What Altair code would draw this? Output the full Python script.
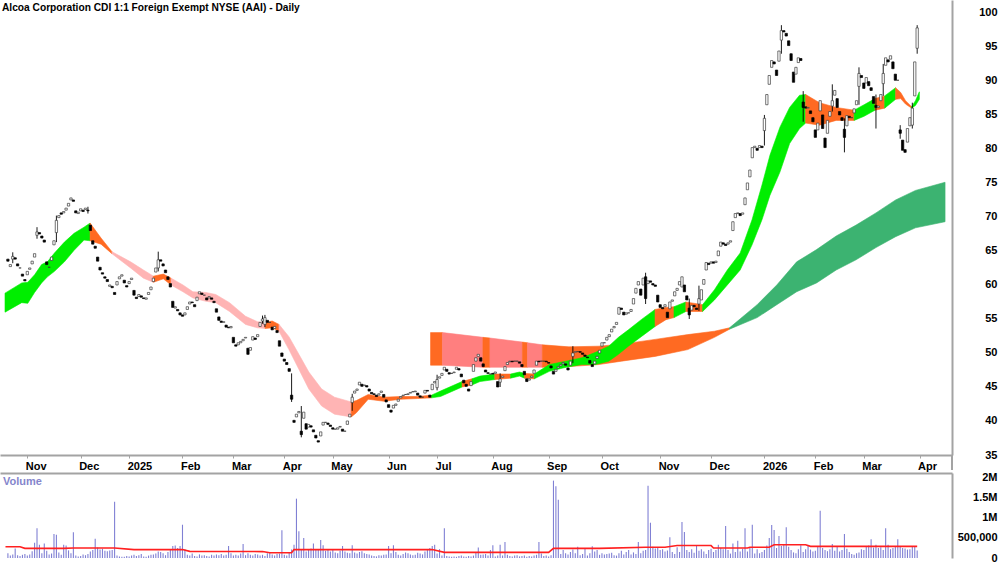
import altair as alt
import pandas as pd

FONT = "Liberation Sans, Arial, sans-serif"
TITLE = "Alcoa Corporation CDI 1:1 Foreign Exempt NYSE (AAI) - Daily"

MONTH_TICKS = [8, 30, 50, 72, 93, 114, 134, 157, 177, 200, 223, 245, 269, 290, 312, 333, 353, 376]
MONTH_LABELS = ["Nov", "Dec", "2025", "Feb", "Mar", "Apr", "May", "Jun", "Jul", "Aug",
                "Sep", "Oct", "Nov", "Dec", "2026", "Feb", "Mar", "Apr"]
PRICE_TICKS = [35, 40, 45, 50, 55, 60, 65, 70, 75, 80, 85, 90, 95, 100]
VOL_TICKS = [0, 500000, 1000000, 1500000, 2000000]
VOL_LABELS = ["0", "500,000", "1M", "1.5M", "2M"]

# daily closes (trading-day index 0..375)
CLOSE = [
    63.5, 63.0, 64.2, 63.8, 62.8, 62.5, 61.3, 60.6,
    62.0, 62.5, 63.5, 64.6, 67.8, 67.5, 66.9, 66.3,
    63.0, 62.6, 64.1, 66.5, 69.5, 70.2, 70.4, 70.8,
    71.3, 72.0, 72.8, 72.3, 70.6, 70.7, 71.2, 70.8,
    71.3, 70.9, 68.0, 66.0, 65.4, 63.5, 62.2, 61.6,
    61.0, 60.5, 60.0, 59.6, 58.6, 60.5, 61.2, 61.5,
    60.3, 59.7, 60.5, 61.0, 58.5, 58.0, 58.6, 58.2,
    58.0, 58.1, 58.9, 59.7, 61.0, 62.5, 63.7, 63.5,
    62.8, 61.8, 60.8, 59.7, 56.7, 56.8, 56.2, 55.6,
    55.4, 55.9, 56.8, 57.5, 57.4, 56.8, 58.2, 59.0,
    58.6, 58.5, 57.8, 58.3, 57.9, 57.4, 56.0, 54.8,
    54.5, 54.6, 53.8, 53.7, 53.9, 51.5, 51.0, 51.5,
    51.7, 52.0, 52.3, 49.8, 50.8, 52.4, 52.0, 52.7,
    54.5, 55.0, 55.2, 54.5, 54.5, 53.4, 53.9, 53.0,
    51.0, 49.5, 48.8, 48.3, 47.3, 43.2, 39.8, 41.0,
    41.4, 38.0, 41.3, 38.8, 39.5, 39.1, 38.4, 37.5,
    36.9, 38.4, 39.8, 39.8, 39.5, 39.2, 38.8, 38.8,
    39.0, 39.2, 38.5, 38.5, 40.0, 41.0, 43.5, 44.4,
    44.7, 45.7, 45.1, 45.3, 45.0, 44.4, 44.0, 43.9,
    43.6, 44.0, 44.4, 43.5, 42.8, 42.0, 41.3, 42.3,
    42.5, 43.2, 43.6, 43.8, 43.9, 44.0, 44.2, 44.3,
    44.4, 43.8, 43.5, 43.5, 44.5, 44.4, 43.5, 45.4,
    45.8, 46.1, 46.5, 47.0, 47.9, 47.3, 46.9, 47.0,
    47.2, 47.9, 47.5, 46.5, 45.6, 45.1, 44.4, 45.8,
    48.3, 49.3, 49.8, 48.8, 48.0, 47.2, 47.0, 46.9,
    46.9, 47.2, 45.0, 46.2, 46.6, 48.0, 48.6, 48.8,
    48.7, 48.8, 48.8, 48.5, 48.0, 46.8, 45.8, 46.2,
    46.6, 47.5, 48.8, 48.7, 48.8, 48.8, 48.7, 48.5,
    47.8, 46.9, 47.6, 48.0, 48.3, 48.6, 48.2, 47.5,
    48.8, 50.0, 50.2, 50.2, 50.1, 49.8, 49.5, 49.3,
    48.5, 48.0, 48.8, 49.5, 50.4, 51.5, 51.5, 52.3,
    52.7, 53.5, 53.9, 54.5, 56.7, 56.4, 55.6, 55.9,
    55.9, 56.4, 58.0, 59.5, 60.5, 58.5, 61.0, 58.0,
    60.6, 60.4, 60.0, 59.8, 57.5, 56.7, 56.5, 57.1,
    55.2, 57.5, 57.8, 59.0, 59.5, 60.5, 61.2, 59.0,
    57.8, 55.6, 57.0, 56.8, 56.4, 58.0, 59.3, 60.8,
    63.3, 63.0, 63.4, 63.2, 63.5, 65.0, 66.3, 66.0,
    65.8, 66.2, 66.5, 69.3, 70.5, 70.6, 70.2, 70.6,
    72.8, 75.0, 76.9, 80.2, 80.4, 79.8, 80.5, 80.2,
    84.5, 88.0, 90.8, 93.0, 92.5, 90.8, 94.4, 97.4,
    97.2, 96.6, 95.2, 93.0, 89.8, 92.0, 93.4, 93.0,
    86.1, 86.0, 86.1, 85.2, 84.0, 81.7, 83.8, 87.1,
    83.0, 80.2, 84.2, 85.5, 87.1, 88.6, 86.1, 85.0,
    84.2, 81.7, 84.9, 84.6, 84.6, 85.9, 87.1, 91.1,
    90.5, 88.9, 90.5, 89.3, 88.6, 86.7, 86.1, 86.3,
    88.0, 91.1, 93.4, 92.8, 93.7, 91.8, 90.1, 90.1,
    82.3, 79.8, 79.5, 83.0, 84.6, 86.0, 92.8, 97.8,
]

# open minus close for each day
BODY = [
    0.3, -0.3, -0.4, 0.2, 0.3, 0, 0.3, 0.2,
    -0.5, -0.2, -0.4, -0.5, -0.5, 0.2, 0.3, 0.3,
    0.4, 0, -0.5, -0.6, -1.8, -0.3, 0.2, -0.2,
    -0.3, -0.4, -0.3, 0.2, 0.3, -0.2, -0.3, 0.2,
    -0.2, 0.1, 0.8, 0.5, 0.3, 0.6, 0.4, 0.2,
    0.2, 0.3, -0.2, 0.2, 0.3, -0.5, -0.3, -0.2,
    0.4, 0.2, -0.3, -0.2, 0.7, 0.2, -0.3, 0.2,
    0.1, -0.2, -0.3, -0.4, -0.5, -0.6, -1.2, 0.2,
    0.3, 0.4, 0.4, 0.5, 0.9, -0.2, 0.2, 0.3,
    0.2, -0.3, -0.4, -0.3, 0.1, 0.3, -0.5, -0.3,
    0.2, 0, 0.3, -0.2, 0.2, 0.2, 0.5, 0.5,
    0.2, -0.1, 0.3, 0.1, -0.2, 0.8, 0.2, -0.3,
    -0.2, -0.2, -0.1, 0.9, -0.4, -0.5, 0.2, -0.3,
    -0.6, -0.3, -1.0, 0.3, 0, 0.4, -0.3, 0.3,
    0.8, 0.5, 0.3, 0.3, 0.4, 0.6, 0.3, -0.4,
    -0.2, 0.5, -0.9, 0.8, -0.4, 0.2, 0.3, 0.4,
    0.2, -0.6, -0.4, 0, 0.2, 0.2, 0.2, 0,
    -0.2, -0.1, 0.3, 0, -0.5, -0.4, -0.8, -0.3,
    -0.2, -0.4, 0.3, -0.1, 0.2, 0.3, 0.2, 0.1,
    0.2, -0.2, -0.2, 0.4, 0.3, 0.4, 0.3, -0.4,
    -0.2, -0.3, -0.2, -0.1, 0, -0.1, -0.1, 0,
    -0.1, 0.3, 0.2, 0, -0.4, 0.1, 0.3, -0.8,
    -0.2, -1.2, -0.2, -0.3, -0.4, 0.3, 0.2, 0,
    -0.1, -0.3, 0.2, 0.4, 0.4, 0.3, 0.3, -0.6,
    -1.0, -0.5, -0.3, 0.5, 0.4, 0.3, 0.1, 0,
    0.1, -0.2, 0.8, -0.5, -0.2, -0.6, -0.3, -0.1,
    0.1, 0, 0, 0.2, 0.3, 0.5, 0.4, -0.2,
    -0.2, -0.5, -0.6, 0.1, 0, 0, 0.1, 0.1,
    0.3, 0.4, -0.3, -0.2, -0.2, -0.2, 0.2, 0.3,
    -0.6, -0.5, -0.1, 0, 0.1, 0.2, 0.2, 0.1,
    0.4, 0.3, -0.4, -0.3, -0.4, -0.5, 0, -0.4,
    -0.3, -0.4, -0.2, -0.3, -1.0, 0.2, 0.4, -0.2,
    0, -0.3, -0.8, -0.7, -0.5, 0.9, -1.0, 3.2,
    -0.4, 0.2, 0.2, 0.2, 1.0, 0.4, 0.2, -0.3,
    0.8, -1.0, -0.2, -0.6, -0.3, -0.5, -1.5, 1.0,
    0.6, 1.0, -0.7, 0.2, 0.2, -0.8, -1.5, -0.7,
    -1.1, 0.2, -0.2, 0.2, -0.2, -0.7, -0.6, 0.2,
    0.2, -0.2, -0.2, -1.3, -0.6, -0.1, 0.3, -0.2,
    -1.0, -1.0, -1.0, -1.5, -0.2, 0.3, -0.3, 0.2,
    -1.8, -1.5, -1.3, -1.0, 0.3, 0.8, -1.5, -1.4,
    0.2, 0.4, 0.7, 1.0, 1.5, -1.0, -0.7, 0.3,
    0.8, 0.2, -0.1, 0.4, 0.6, 1.1, -1.0, -1.5,
    2.0, 1.4, -1.9, -0.7, -0.8, -0.7, 1.3, 0.5,
    0.4, 1.2, -1.5, 0.2, 0, -0.6, -0.6, -1.9,
    0.3, 0.8, -0.8, 0.6, 0.4, 1.0, 0.3, -0.2,
    -0.9, -1.5, -1.1, 0.3, -0.5, 1.0, 0.9, 0,
    0.5, 1.5, 0.4, -2.0, -1.2, -2.5, -5.0, -3.0,
]

WICK_IDX = [2, 12, 20, 33, 62, 105, 106, 117, 121, 142, 177, 203, 233, 263, 281, 285,
            312, 319, 328, 340, 345, 351, 358, 361, 368, 373, 375]
WICK_HI = [64.8, 68.5, 70.2, 71.5, 64.9, 55.5, 55.6, 47.0, 42.2, 44.0, 46.8, 47.0, 51.0, 61.8, 58.0, 59.9,
           85.0, 98.2, 88.5, 89.5, 84.5, 92.0, 88.0, 92.5, 83.5, 86.8, 98.2]
WICK_LO = [63.2, 66.8, 66.3, 70.5, 62.0, 54.3, 53.8, 42.8, 37.6, 41.5, 44.5, 45.0, 48.5, 57.2, 55.0, 56.2,
           80.5, 94.0, 84.0, 85.5, 79.5, 86.5, 83.0, 87.8, 81.5, 83.0, 94.0]

# daily volume, thousands
VOLUME_K = [
    120, 60, 90, 240, 70, 50, 80, 100,
    60, 90, 170, 380, 740, 330, 120, 360,
    180, 90, 110, 600, 580, 140, 80, 330,
    310, 190, 120, 640, 60, 40, 50, 90,
    70, 100, 160, 200, 480, 260, 210, 230,
    180, 170, 190, 200, 1400, 60, 40, 30,
    30, 50, 40, 60, 80, 50, 70, 100,
    40, 30, 60, 80, 90, 110, 160, 150,
    120, 70, 150, 200, 300, 310, 250, 300,
    830, 220, 80, 60, 110, 50, 40, 90,
    60, 70, 50, 40, 80, 60, 90, 70,
    100, 60, 80, 300, 120, 60, 80, 60,
    110, 350, 70, 120, 80, 60, 100, 90,
    60, 80, 50, 120, 140, 90, 60, 100,
    110, 690, 80, 60, 130, 210, 330, 1480,
    670, 220, 500, 160, 200, 240, 360, 220,
    200, 450, 320, 180, 210, 160, 200, 140,
    120, 180, 300, 160, 130, 120, 320, 140,
    110, 150, 170, 120, 100, 90, 60, 50,
    40, 70, 60, 80, 90, 300, 120, 320,
    150, 80, 60, 100, 140, 120, 90, 70,
    80, 130, 110, 90, 160, 220, 250, 300,
    330, 110, 220, 60, 740, 50, 40, 30,
    40, 30, 50, 60, 40, 30, 50, 40,
    60, 150, 260, 80, 90, 100, 60, 200,
    320, 40, 60, 330, 60, 400, 80, 50,
    40, 60, 70, 40, 50, 60, 30, 50,
    40, 60, 80, 400, 110, 50, 60, 40,
    70, 1930, 1790, 1450, 100, 200, 120, 90,
    150, 210, 120, 280, 70, 100, 240, 60,
    120, 290, 160, 200, 80, 120, 90, 100,
    110, 130, 70, 60, 120, 180, 90, 150,
    200, 90, 140, 100, 400, 120, 180, 200,
    1800, 880, 280, 240, 260, 200, 220, 160,
    190, 520, 150, 100, 270, 150, 900, 650,
    200, 150, 220, 130, 300, 180, 220, 160,
    100, 200, 230, 150, 200, 330, 250, 220,
    800, 200, 110, 360, 150, 430, 160, 230,
    740, 160, 260, 830, 110, 220, 120, 150,
    200, 310, 500, 820, 700, 250, 550, 300,
    350, 770, 280, 200, 140, 120, 220, 320,
    150, 220, 300, 210, 160, 180, 280, 1180,
    250, 200, 170, 220, 350, 180, 300, 160,
    200, 600, 230, 150, 100, 80, 120, 140,
    220, 200, 300, 310, 470, 260, 330, 250,
    270, 200, 740, 330, 220, 250, 300, 470,
    280, 250, 240, 210, 220, 300, 280, 190,
]

# volume moving average line (index, thousands)
VOL_MA_IDX = [-1, 5, 7, 23, 27, 44, 52, 72, 75, 105, 108, 117, 118, 175, 180, 223, 225, 244,
              263, 271, 276, 290, 291, 305, 306, 314, 316, 329, 331, 375]
VOL_MA_K = [280, 280, 240, 240, 250, 250, 210, 210, 165, 160, 130, 130, 210, 210, 140, 140, 240, 240,
            270, 270, 310, 310, 250, 250, 270, 270, 330, 330, 290, 290]

# short-term moving-average ribbon
SHORT_IDX = [-1.2, 5.7, 8.2, 11.0, 13.9, 16.3, 19.2, 23.3, 27.3, 31.4, 33.9, 38.4, 42.9, 50.6, 55.9,
             60.0, 64.1, 67.3, 72.2, 76.3, 81.6, 85.7, 91.4, 98.0, 102.9, 106.1, 109.0, 111.8, 115.9,
             120.0, 124.1, 129.4, 134.7, 141.6, 143.7, 148.6, 155.1, 162.0, 169.0, 174.7, 178.4, 187.3,
             191.4, 194.7, 200.8, 207.3, 211.0, 213.1, 217.1, 223.3, 230.2, 236.7, 242.4, 247.8, 251.8,
             255.9, 261.2, 266.9, 271.4, 274.7, 279.6, 286.5, 291.4, 296.7, 302.0, 306.9, 311.0, 314.3,
             318.4, 322.4, 326.5, 329.0, 334.7, 341.6, 349.0, 353.1, 357.6, 361.6, 366.1, 368.2, 370.2,
             372.7, 374.3, 375.9]
SHORT_HI = [58.8, 60.3, 60.4, 61.5, 63.0, 63.4, 64.7, 66.3, 67.6, 68.5, 69.1, 66.9, 64.9, 63.4, 62.2,
            61.3, 61.6, 61.0, 60.0, 59.0, 58.9, 58.6, 57.4, 55.4, 54.6, 54.5, 54.7, 54.2, 52.4,
            49.8, 47.2, 44.7, 43.5, 42.8, 43.0, 43.9, 43.5, 43.6, 43.6, 43.8, 44.4, 45.8,
            46.2, 46.6, 46.9, 46.9, 47.2, 47.0, 46.9, 48.3, 48.8, 49.3, 50.1, 51.0, 52.3,
            53.4, 54.9, 56.4, 56.7, 56.8, 57.5, 57.1, 59.3, 62.2, 64.7, 69.6, 74.7, 79.1,
            83.2, 86.1, 87.9, 88.0, 86.8, 86.1, 85.7, 86.5, 87.4, 87.8, 89.0, 88.3, 87.1,
            86.2, 87.1, 88.4]
SHORT_LO = [56.0, 57.4, 57.3, 58.9, 60.3, 61.2, 62.0, 63.4, 65.1, 66.6, 66.5, 66.0, 64.6, 62.5, 61.0,
            60.4, 60.9, 60.0, 59.0, 58.1, 57.6, 57.4, 56.1, 54.2, 53.7, 53.6, 53.7, 53.2, 50.5,
            47.6, 44.7, 42.2, 41.0, 40.6, 41.2, 43.2, 42.9, 43.2, 43.3, 43.4, 43.6, 45.0,
            45.3, 45.8, 46.1, 46.3, 46.6, 46.3, 46.2, 47.3, 47.9, 48.3, 48.3, 48.8, 49.8,
            51.0, 52.4, 53.9, 54.9, 55.2, 56.1, 56.1, 57.8, 60.0, 62.2, 65.9, 69.6, 73.2,
            76.6, 80.8, 83.0, 83.8, 83.5, 84.2, 84.2, 84.8, 85.7, 86.0, 87.3, 87.4, 86.6,
            86.0, 86.4, 87.3]
SHORT_RUNS = [(0, "green"), (10, "orange"), (12, "pink"), (15, "orange"), (17, "pink"), (25, "orange"),
              (27, "pink"), (33, "orange"), (39, "green"), (41, "orange"), (42, "green"), (44, "orange"),
              (45, "green"), (47, "orange"), (48, "green"), (57, "orange"), (59, "green"), (60, "orange"),
              (61, "green"), (71, "orange"), (74, "green"), (76, "orange"), (77, "green"), (78, "orange"),
              (81, "green")]

# long-term moving-average ribbon
LONG_IDX = [174.3, 179.2, 195.9, 198.8, 212.2, 214.3, 220.4, 231.4, 243.7, 253.1, 266.9, 280.4, 291.4,
            297.6, 309.0, 317.1, 325.3, 333.5, 341.6, 349.8, 358.0, 366.1, 374.3, 386.5]
LONG_HI = [53.0, 53.0, 52.3, 52.2, 51.6, 51.5, 51.2, 50.9, 51.0, 51.3, 52.0, 52.7, 53.2,
           53.7, 57.1, 60.0, 63.4, 65.2, 67.2, 68.8, 70.6, 72.5, 73.9, 75.1]
LONG_LO = [48.2, 48.2, 47.9, 47.9, 47.9, 47.9, 47.9, 48.0, 48.3, 48.8, 49.5, 50.5, 52.3,
           53.5, 55.2, 57.1, 59.0, 60.3, 62.2, 63.7, 65.5, 67.1, 68.4, 69.3]
LONG_RUNS = [(0, "orange"), (1, "salmon"), (2, "orange"), (3, "salmon"), (4, "orange"), (5, "salmon"),
             (6, "orange"), (13, "dkgreen")]

COLORS = {"green": "#00ee00", "orange": "#ff6a22", "pink": "#ffb4b4", "salmon": "#ff7f7f",
          "dkgreen": "#3cb371"}
GREY = "#a3a3a3"

# ---------------------------------------------------------------- frames
def ribbon(name, idx, hi, lo, runs):
    rows = []
    for r, (start, col) in enumerate(runs):
        end = runs[r + 1][0] if r + 1 < len(runs) else len(idx) - 1
        for k in range(start, end + 1):
            rows.append({"seg": f"{name}{r:02d}", "i": idx[k], "hi": hi[k], "lo": lo[k],
                         "col": COLORS[col]})
    return pd.DataFrame(rows)

short_df = ribbon("s", SHORT_IDX, SHORT_HI, SHORT_LO, SHORT_RUNS)
long_df = ribbon("l", LONG_IDX, LONG_HI, LONG_LO, LONG_RUNS)

candles = pd.DataFrame({"i": list(range(len(CLOSE))), "c": CLOSE,
                        "o": [c + b for c, b in zip(CLOSE, BODY)]})
candles["up"] = candles["c"] >= candles["o"]
wicks = pd.DataFrame({"i": WICK_IDX, "hi": WICK_HI, "lo": WICK_LO})
vol = pd.DataFrame({"i": list(range(len(VOLUME_K))), "v": [v * 1000 for v in VOLUME_K]})
vol_ma = pd.DataFrame({"i": VOL_MA_IDX, "v": [v * 1000 for v in VOL_MA_K]})

# ---------------------------------------------------------------- scales / axes
X_SCALE = alt.Scale(domain=[-1.2, 387.3], nice=False, zero=False)
P_SCALE = alt.Scale(domain=[35, 101.9], nice=False, zero=False)
V_SCALE = alt.Scale(domain=[0, 2120000], nice=False, zero=False)

month_expr = " : ".join(f"datum.value == {v} ? '{l}'" for v, l in zip(MONTH_TICKS, MONTH_LABELS)) + " : ''"
vol_expr = " : ".join(f"datum.value == {v} ? '{l}'" for v, l in zip(VOL_TICKS, VOL_LABELS)) + " : ''"

LBL = dict(labelFont=FONT, labelFontSize=11, labelFontWeight="bold", labelColor="black",
           labelOverlap=False, labelFlush=False)

X_AXIS = alt.Axis(values=MONTH_TICKS, labelExpr=month_expr, title=None, grid=False, orient="bottom",
                  labelAlign="left", labelBaseline="top", labelPadding=2, labelBound=False,
                  labelOffset=-2, domainColor=GREY, domainWidth=2, tickColor=GREY, tickSize=3,
                  minExtent=14, maxExtent=14, **LBL)
P_AXIS = alt.Axis(values=PRICE_TICKS, title=None, grid=False, orient="right", labelAlign="right",
                  labelBaseline="middle", labelPadding=45, ticks=False,
                  domainColor=GREY, domainWidth=2, minExtent=46, maxExtent=46, **LBL)
VX_AXIS = alt.Axis(orient="top", labels=False, ticks=False, title=None, grid=False, domainColor=GREY,
                   domainWidth=2, minExtent=0, maxExtent=0, values=MONTH_TICKS)
V_AXIS = alt.Axis(values=VOL_TICKS, labelExpr=vol_expr, title=None, grid=False, orient="right",
                  labelAlign="right", labelBaseline="middle", labelPadding=45, ticks=False,
                  domainColor=GREY, domainWidth=2, minExtent=46, maxExtent=46, **LBL)

def px(field="i"):
    return alt.X(f"{field}:Q", scale=X_SCALE, axis=X_AXIS)

# ---------------------------------------------------------------- price panel
def band(df):
    return alt.Chart(df).mark_area(interpolate="linear", strokeWidth=0.6).encode(
        x=px(),
        y=alt.Y("hi:Q", scale=P_SCALE, axis=P_AXIS, stack=None),
        y2="lo:Q",
        detail="seg:N",
        color=alt.Color("col:N", scale=None),
        stroke=alt.Stroke("col:N", scale=None),
    )

long_band = band(long_df)
short_band = band(short_df)

wick_layer = alt.Chart(wicks).mark_rule(color="black", strokeWidth=0.9).encode(
    x=px(), y=alt.Y("hi:Q", scale=P_SCALE, axis=P_AXIS), y2="lo:Q")

body_layer = alt.Chart(candles).mark_bar(size=2.3, strokeWidth=0.7).encode(
    x=px(),
    y=alt.Y("o:Q", scale=P_SCALE, axis=P_AXIS),
    y2="c:Q",
    fill=alt.condition("datum.up", alt.value("white"), alt.value("black")),
    stroke=alt.condition("datum.up", alt.value("#3a3a3a"), alt.value("black")),
)

title_layer = alt.Chart(pd.DataFrame({"t": [TITLE]})).mark_text(
    align="left", baseline="middle", font=FONT, fontSize=10.2, fontWeight="bold", color="black"
).encode(x=alt.value(2), y=alt.value(8), text="t:N")

# axis line continues through the month-label strip
gap_rule = alt.Chart(pd.DataFrame({"k": [0]})).mark_rule(color=GREY, strokeWidth=2).encode(
    x=alt.value(952), y=alt.value(455), y2=alt.value(470))

price = alt.layer(long_band, short_band, wick_layer, body_layer, title_layer, gap_rule).properties(
    width=952, height=455)

# ---------------------------------------------------------------- volume panel
def vx():
    return alt.X("i:Q", scale=X_SCALE, axis=VX_AXIS)

vol_bars = alt.Chart(vol).mark_bar(size=1.1, color="#8080d4").encode(
    x=vx(), y=alt.Y("v:Q", scale=V_SCALE, axis=V_AXIS))
vol_line = alt.Chart(vol_ma).mark_line(color="#ff2020", strokeWidth=1.6).encode(
    x=vx(), y=alt.Y("v:Q", scale=V_SCALE, axis=V_AXIS))
vol_text = alt.Chart(pd.DataFrame({"t": ["Volume"]})).mark_text(
    align="left", baseline="middle", font=FONT, fontSize=11, fontWeight="bold", color="#8585cc"
).encode(x=alt.value(3), y=alt.value(9), text="t:N")

volume = alt.layer(vol_bars, vol_line, vol_text).properties(width=952, height=85)

chart = alt.vconcat(price, volume, spacing=0).properties(
    padding=0, background="white"
).configure_view(stroke=None)

chart.save("out.html", embed_options={"renderer": "svg", "actions": False})
